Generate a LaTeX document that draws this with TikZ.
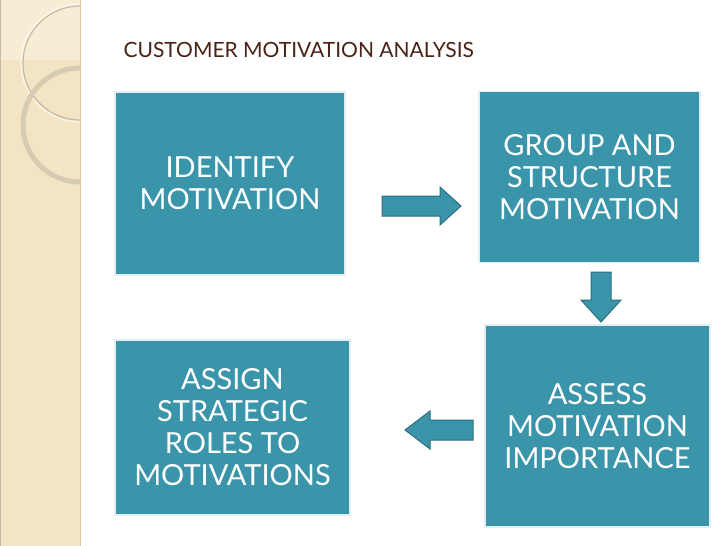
\documentclass[tikz,border=0pt]{standalone}
\usepackage{fontspec}
\setmainfont{Lato}
\begin{document}
\begin{tikzpicture}[x=1pt,y=-1pt,
  box/.style={fill=teal1,draw=white!85!teal1,line width=1.2pt,text=white,align=center,font=\fontsize{29}{32}\selectfont,inner sep=0pt},
  arr/.style={fill=teal1,draw=teal2,line width=1pt}]
\definecolor{teal1}{HTML}{3A95AB}
\definecolor{teal2}{HTML}{2C6E80}
\definecolor{beige}{HTML}{F3E5C3}
\definecolor{brownt}{HTML}{4A2216}
\useasboundingbox (0,0) rectangle (728,546);
\fill[white] (0,0) rectangle (728,546);
% left strip
\fill[beige] (0,0) rectangle (80,546);
\fill[beige!70!white] (0,0) rectangle (80,60);
\draw[color=beige!70!brown,line width=1pt] (80,0) -- (80,546);
\draw[color=beige!60!gray,line width=1.5pt] (0,0) -- (0,546);
\begin{scope}
\clip (0,0) rectangle (80,546);
\draw[color=beige!60!gray,line width=1.2pt] (80,63) circle (57);
\draw[color=white!80!beige,line width=1pt] (80,63) circle (59);
\draw[color=beige!75!gray,line width=5pt] (80,125) circle (57);
\end{scope}
\node[font=\fontsize{21}{24}\selectfont,text=brownt,anchor=base west] (title) at (120,57) {CUSTOMER MOTIVATION ANALYSIS};
\node[box,minimum width=230,minimum height=183] (b1) at (230,183.5) {IDENTIFY\\MOTIVATION};
\node[box,minimum width=221,minimum height=171] (b2) at (589.5,177) {GROUP AND\\STRUCTURE\\MOTIVATION};
\node[box,minimum width=225,minimum height=202] (b3) at (597.5,426) {ASSESS\\MOTIVATION\\IMPORTANCE};
\node[box,minimum width=235,minimum height=175] (b4) at (232.5,427.5) {ASSIGN\\STRATEGIC\\ROLES TO\\MOTIVATIONS};
% arrows
\coordinate (a1) at (382,206);
\draw[arr] (a1) ++(0,-10) -- ++(58,0) -- ++(0,-9) -- ++(21,19) -- ++(-21,19) -- ++(0,-9) -- ++(-58,0) -- cycle;
\coordinate (a2) at (601,272);
\draw[arr] (a2) ++(-10,0) -- ++(0,28) -- ++(-10,0) -- ++(20,22) -- ++(20,-22) -- ++(-10,0) -- ++(0,-28) -- cycle;
\coordinate (a3) at (473,430);
\draw[arr] (a3) ++(0,-10) -- ++(-43,0) -- ++(0,-9) -- ++(-25,19) -- ++(25,19) -- ++(0,-9) -- ++(43,0) -- cycle;
\end{tikzpicture}
\end{document}
